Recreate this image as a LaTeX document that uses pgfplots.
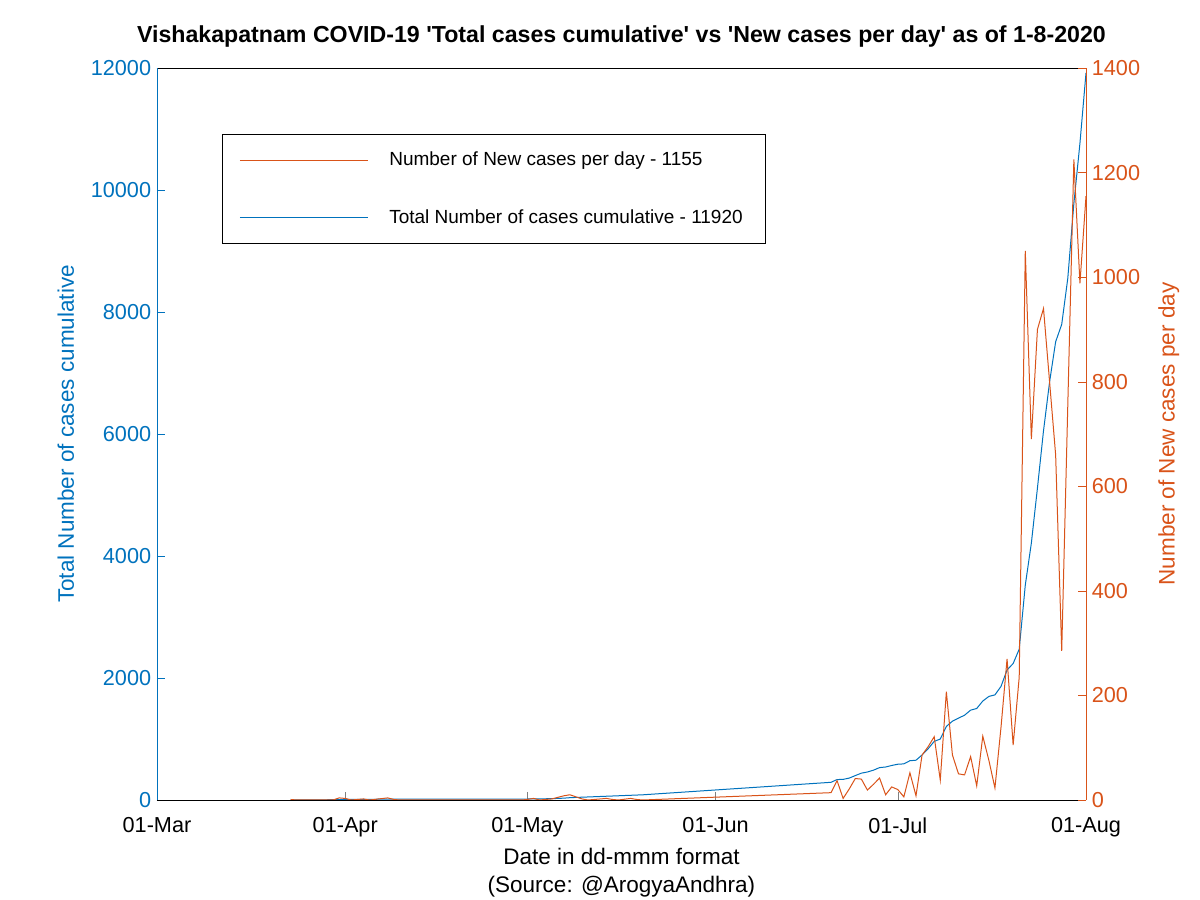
\documentclass[border=0pt]{standalone}
\usepackage{pgfplots}
\pgfplotsset{compat=1.18}
\usepackage{fontspec}
\setmainfont{Liberation Sans}
\definecolor{mblue}{rgb}{0,0.447,0.741}
\definecolor{morange}{rgb}{0.85,0.325,0.098}

% new cases per day (day 0 = 01-Mar-2020)
\pgfplotstableread{
day new
22 1
23 0
29 0
30 4
31 3
32 0
34 2
35 0
38 4
39 1
40 0
60 0
61 1
62 3
63 0
65 2
66 5
67 8
68 10
69 6
70 2
71 0
74 3
75 1
76 0
78 3
79 1
80 0
111 14
112 37
113 3
114 21
115 41
116 40
117 19
118 30
119 42
120 10
121 25
122 20
123 6
124 52
125 8
126 86
127 102
128 121
129 38
130 207
131 86
132 50
133 48
134 83
135 27
136 122
137 76
138 23
139 139
140 270
141 105
142 235
143 1050
144 690
145 900
146 940
147 800
148 660
149 285
150 755
151 1225
152 988
153 1155
}\newcases

% total cases cumulative
\pgfplotstableread{
day total
22 1
30 5
31 8
34 10
38 14
39 15
61 16
62 19
65 21
66 26
67 30
68 38
80 85
111 290
112 335
113 338
114 359
115 400
116 440
117 459
118 489
119 531
120 541
121 566
122 586
123 592
124 644
125 652
126 738
127 840
128 961
129 999
130 1206
131 1292
132 1342
133 1390
134 1473
135 1500
136 1622
137 1698
138 1723
139 1862
140 2132
141 2237
142 2472
143 3522
144 4212
145 5112
146 6052
147 6852
148 7512
149 7797
150 8552
151 9777
152 10765
153 11920
}\totalcases

\begin{document}
\begin{tikzpicture}
\useasboundingbox (-94.2pt,-60pt) rectangle (625.8pt,480pt);
\pgfplotsset{
  every axis/.append style={
    scale only axis, width=557.4pt, height=439.2pt,
    at={(0,0)}, anchor=south west,
    xmin=0, xmax=153,
    tick align=inside, major tick length=5pt,
    scaled y ticks=false,
    /pgf/number format/assume math mode=true,
    /pgf/number format/set thousands separator={},
    tick label style={font=\fontsize{13}{15}\selectfont},
    label style={font=\fontsize{13.5}{16.8}\selectfont},
  },
}
\begin{axis}[
  separate axis lines,
  x axis line style={black},
  y axis line style={mblue},
  xtick={0,31,61,92,122,153},
  xticklabels={01-Mar,01-Apr,01-May,01-Jun,01-Jul,01-Aug},
  xticklabel style={yshift=-7pt},
  xtick pos=left,
  ytick pos=left,
  ymin=0, ymax=12000,
  ytick={0,2000,...,12000},
  y tick style={mblue},
  yticklabel style={color=mblue},
  ylabel={Total Number of cases cumulative},
  ylabel style={color=mblue, at={(axis description cs:-0.098,0.5)}, anchor=center},
  xlabel={Date in dd-mmm format\\(Source: @ArogyaAndhra)},
  xlabel style={align=center},
  title={Vishakapatnam COVID-19 \textquotesingle Total cases cumulative\textquotesingle\ vs \textquotesingle New cases per day\textquotesingle\ as of 1-8-2020},
  title style={font=\bfseries\fontsize{13.9}{15}\selectfont, yshift=3pt},
]
\addplot[mblue, line width=0.6pt] table[x=day, y=total] {\totalcases};
\end{axis}

\begin{axis}[
  axis x line=none,
  axis y line*=right,
  ymin=0, ymax=1400,
  ytick={0,200,...,1400},
  y axis line style={morange},
  y tick style={morange},
  yticklabel style={color=morange},
  ylabel={Number of New cases per day},
  ylabel style={color=morange, at={(axis description cs:1.089,0.5)}, anchor=center},
]
\addplot[morange, line width=0.6pt] table[x=day, y=new] {\newcases};
% legend box
\draw[black, line width=0.6pt, fill=white]
  (axis description cs:0.0700,0.7596) rectangle (axis description cs:0.6555,0.9098);
\draw[morange, line width=0.6pt]
  (axis description cs:0.0893,0.8730) -- (axis description cs:0.2271,0.8730);
\draw[mblue, line width=0.6pt]
  (axis description cs:0.0893,0.7964) -- (axis description cs:0.2271,0.7964);
\node[anchor=west, inner sep=0pt, font=\fontsize{11.4}{13}\selectfont]
  at (axis description cs:0.2497,0.8730) {Number of New cases per day - 1155};
\node[anchor=west, inner sep=0pt, font=\fontsize{11.4}{13}\selectfont]
  at (axis description cs:0.2497,0.7964) {Total Number of cases cumulative - 11920};
\end{axis}
\end{tikzpicture}
\end{document}
